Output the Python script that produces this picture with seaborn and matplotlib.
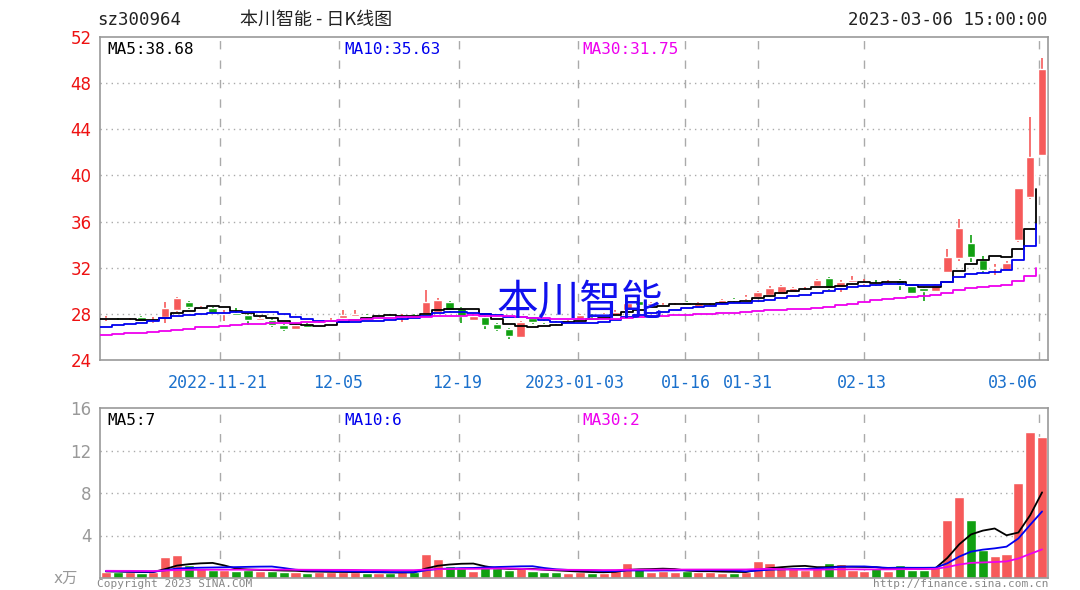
import numpy as np
import pandas as pd
import matplotlib
matplotlib.use("Agg")
import matplotlib.pyplot as plt
import seaborn as sns

opens = [27.6,27.5,27.4,27.7,27.4,27.7,28.3,29.05,28.4,28.5,28.0,28.1,27.9,27.5,27.5,27.0,26.7,27.1,27.1,27.3,
         27.6,27.8,27.9,27.8,27.9,27.7,27.9,28.0,28.2,29.0,28.5,27.5,27.7,27.1,26.7,26.0,27.6,27.4,27.3,27.2,
         27.5,27.9,27.8,27.9,28.3,29.1,28.8,28.7,28.7,29.0,28.6,29.0,28.9,29.3,29.4,29.5,29.6,29.7,29.9,30.0,
         30.4,31.1,30.3,30.8,30.7,30.7,30.6,30.9,30.4,30.2,30.0,31.6,32.8,34.1,32.7,32.0,31.8,34.4,38.1,41.8]
closes = [27.6,27.4,27.5,27.4,27.5,28.5,29.4,28.6,28.6,28.1,28.1,27.9,27.5,27.6,27.0,26.7,27.0,26.9,27.2,27.5,
          27.9,28.0,27.8,27.8,27.8,27.8,27.7,29.0,29.2,28.3,27.8,27.8,27.0,26.7,26.1,27.3,27.3,27.3,27.2,27.4,
          27.9,27.8,28.0,28.2,28.9,28.8,28.9,28.8,28.8,28.8,28.9,29.0,29.2,29.2,29.4,29.9,30.2,30.4,30.2,30.1,
          30.9,30.2,30.8,30.9,30.8,30.6,30.8,30.5,29.8,30.0,30.5,32.9,35.4,32.9,31.8,32.0,32.4,38.9,41.6,49.2]
highs = [27.8,27.6,27.6,27.8,27.7,29.05,29.5,29.1,28.7,28.6,28.3,28.5,28.0,27.7,27.6,27.1,27.1,27.2,27.3,27.6,
         28.3,28.3,28.0,27.9,28.0,28.0,28.0,30.1,29.4,29.1,28.6,28.0,27.8,27.2,26.8,27.4,27.7,27.5,27.4,27.5,
         28.0,28.0,28.1,28.3,29.0,29.2,29.0,28.9,28.9,29.1,29.0,29.1,29.3,29.4,29.6,30.0,30.4,30.5,30.3,30.3,
         31.0,31.2,30.9,31.3,31.0,30.9,30.9,31.0,30.5,30.3,30.6,33.6,36.2,34.8,33.0,32.3,32.6,38.9,45.1,50.2]
lows = [27.4,27.3,27.3,27.3,27.2,27.2,28.2,28.4,28.3,28.0,27.4,27.8,27.0,27.4,26.9,26.5,26.6,26.8,27.0,27.2,
        27.5,27.7,27.6,27.7,27.7,27.3,27.6,27.9,28.1,28.2,27.2,27.4,26.7,26.5,25.85,26.0,27.1,27.1,27.0,27.1,
        27.4,27.6,27.7,27.8,28.2,28.6,28.6,28.6,28.6,28.7,28.5,28.8,28.8,29.0,29.2,29.4,29.5,29.6,29.8,29.9,
        30.3,30.1,29.9,30.6,30.5,30.4,30.5,30.1,29.7,29.1,29.9,31.5,32.6,32.5,31.5,31.4,31.7,34.2,38.0,41.8]
volumes = [0.6,0.55,0.55,0.5,0.6,2.0,2.2,1.2,0.9,0.8,0.8,0.7,0.8,0.7,0.7,0.6,0.6,0.5,0.6,0.6,
           0.55,0.55,0.5,0.5,0.5,0.55,0.6,2.3,1.8,1.1,0.9,0.7,1.0,0.9,0.8,0.9,0.7,0.6,0.6,0.5,
           0.6,0.5,0.5,0.8,1.4,0.9,0.6,0.7,0.6,0.7,0.6,0.6,0.5,0.5,0.6,1.6,1.4,1.0,0.9,0.8,
           1.0,1.4,1.3,0.8,0.7,0.9,0.7,1.2,0.8,0.8,1.1,5.5,7.6,5.5,2.6,2.1,2.3,8.9,13.7,13.3]
# closes / volumes before the visible window (used only for moving averages)
hist_closes = [25.4,25.6,25.8,25.5,25.7,26.0,25.9,25.6,25.8,26.1,25.9,25.7,25.8,26.0,26.2,25.9,25.8,26.0,26.1,25.9,
               26.0,26.2,26.3,26.1,26.4,27.2,27.6,27.8,27.5]
hist_volumes = [0.7,0.6,0.8,0.7,0.6,0.7,0.8,0.7,0.6,0.7,0.7,0.8,0.6,0.7,0.7,0.6,0.8,0.7,0.7,0.6,
                0.7,0.8,0.6,0.7,0.6,0.6,0.7,0.6,0.6]

date_labels = ["2022-11-21", "12-05", "12-19", "2023-01-03", "01-16", "01-31", "02-13", "03-06"]
date_pos = [9.6, 19.7, 29.8, 39.8, 48.9, 55.0, 64.0, 78.7]
price_ticks = [24, 28, 32, 36, 40, 44, 48, 52]
vol_ticks = [4, 8, 12, 16]

RED = "#f65a5a"
GREEN = "#11a011"
n = len(closes)
x = np.arange(n)
df = pd.DataFrame({"x": x, "open": opens, "close": closes, "high": highs, "low": lows, "vol": volumes})
allc = pd.Series(hist_closes + closes)
allv = pd.Series(hist_volumes + volumes)
h = len(hist_closes)
for w in (5, 10, 30):
    df[f"ma{w}"] = allc.rolling(w).mean().iloc[h:].values
    df[f"vma{w}"] = allv.rolling(w).mean().iloc[h:].values
df["up"] = df["close"] >= df["open"]
colors = [RED if u else GREEN for u in df["up"]]

sns.set_style("white")
plt.rcParams["font.family"] = ["DejaVu Sans Mono", "Noto Sans CJK SC"]

fig = plt.figure(figsize=(10.8, 5.9), dpi=100)
ax = fig.add_axes([100/1080, 1-360/590, 948/1080, 323/590])
axv = fig.add_axes([100/1080, 1-578/590, 948/1080, 170/590])

for a in (ax, axv):
    a.set_xlim(-0.5, n - 0.5)
    for s in a.spines.values():
        s.set_color("#999999")
        s.set_linewidth(1.2)
    for p in date_pos:
        a.axvline(p, color="#aaaaaa", lw=1, ls=(0, (6, 8)), zorder=0)
    a.set_xticks([])

# candles
ax.vlines(df["x"], df["low"], df["high"], colors=colors, lw=1.2, zorder=2)
body_bottom = np.minimum(df["open"], df["close"])
body_h = np.maximum(np.abs(df["close"] - df["open"]), 0.08)
ax.bar(df["x"], body_h, bottom=body_bottom, width=0.72, color=colors, zorder=3)

for col, c in (("ma5", "black"), ("ma10", "#0000ee"), ("ma30", "#ee00ee")):
    sns.lineplot(x=df["x"] - 0.5, y=df[col], ax=ax, color=c, lw=1.3, drawstyle="steps-post", zorder=4)

ax.set_ylim(24, 52)
ax.set_yticks(price_ticks)
ax.set_yticklabels([str(t) for t in price_ticks], color="#ee1111", fontsize=12, family="DejaVu Sans")
ax.tick_params(axis="y", length=0, pad=6)
for t in price_ticks[1:-1]:
    ax.axhline(t, color="#aaaaaa", lw=1, ls=(0, (1, 3)), zorder=0)
ax.set_xlabel(""); ax.set_ylabel("")

ax.text(0.008, 0.985, "MA5:38.68", transform=ax.transAxes, va="top", fontsize=11.5, color="black")
ax.text(0.258, 0.985, "MA10:35.63", transform=ax.transAxes, va="top", fontsize=11.5, color="#0000ee")
ax.text(0.509, 0.985, "MA30:31.75", transform=ax.transAxes, va="top", fontsize=11.5, color="#ee00ee")
ax.text(40, 28.9, "本川智能", fontsize=30, color="#1010ee", ha="center", va="center",
        family=["Noto Sans CJK SC"], zorder=6)

label_x = [9.4, 19.6, 29.6, 39.6, 48.9, 54.2, 63.8, 76.5]
for lx, lab in zip(label_x, date_labels):
    ax.text(lx, 22.0, lab, ha="center", va="center", fontsize=12, color="#1a70cc", clip_on=False)

# volume
axv.bar(df["x"], df["vol"], width=0.85, color=colors, zorder=2)
for col, c in (("vma5", "black"), ("vma10", "#0000ee"), ("vma30", "#ee00ee")):
    sns.lineplot(x=df["x"], y=df[col], ax=axv, color=c, lw=1.3, zorder=4)
axv.set_ylim(0, 16)
axv.set_yticks(vol_ticks)
axv.set_yticklabels([str(t) for t in vol_ticks], color="#999999", fontsize=12, family="DejaVu Sans")
axv.tick_params(axis="y", length=0, pad=6)
for t in vol_ticks[:-1]:
    axv.axhline(t, color="#aaaaaa", lw=1, ls=(0, (1, 3)), zorder=0)
axv.set_xlabel(""); axv.set_ylabel("")
axv.text(0.008, 0.97, "MA5:7", transform=axv.transAxes, va="top", fontsize=11.5, color="black")
axv.text(0.258, 0.97, "MA10:6", transform=axv.transAxes, va="top", fontsize=11.5, color="#0000ee")
axv.text(0.509, 0.97, "MA30:2", transform=axv.transAxes, va="top", fontsize=11.5, color="#ee00ee")

fig.text(54/1080, 1-578/590, "x万", fontsize=11, color="#999999", va="center", family=["DejaVu Sans", "Noto Sans CJK SC"])
fig.text(97/1080, 1/590, "Copyright 2023 SINA.COM", fontsize=8, color="#888888", va="bottom")
fig.text(1048/1080, 1/590, "http://finance.sina.com.cn", fontsize=8, color="#888888", va="bottom", ha="right")

fig.text(97/1080, 1-20/590, "sz300964", fontsize=12.5, color="#222222", va="center")
fig.text(240/1080, 1-20/590, "本川智能 - 日K线图", fontsize=13, color="#222222", va="center",
         family=["Noto Sans CJK SC", "DejaVu Sans"])
fig.text(1048/1080, 1-20/590, "2023-03-06 15:00:00", fontsize=12.5, color="#222222", va="center", ha="right")

fig.savefig("out.png", dpi=100)
